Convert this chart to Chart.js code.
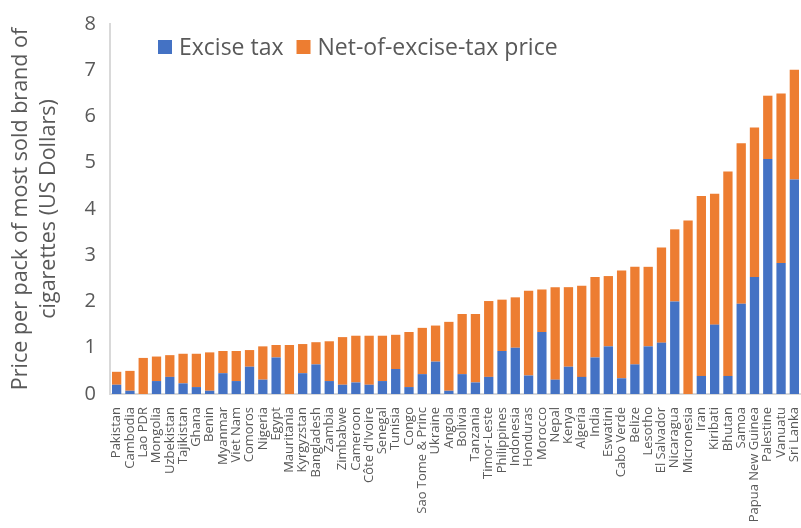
<!DOCTYPE html>
<html>
<head>
<meta charset="utf-8">
<script src="https://cdn.jsdelivr.net/npm/chart.js@4/dist/chart.umd.min.js"></script>
<style>
    html, body { margin: 0; padding: 0; background: #fff; overflow: hidden; }
    canvas { display: block; }
</style>
</head>
<body>
<canvas id="myChart" width="801" height="528"></canvas>
<script>
// Datos de la gráfica
const countries = ['Pakistan', 'Cambodia', 'Lao PDR', 'Mongolia', 'Uzbekistan', 'Tajikistan', 'Ghana', 'Benin',
    'Myanmar', 'Viet Nam', 'Comoros', 'Nigeria', 'Egypt', 'Mauritania', 'Kyrgyzstan', 'Bangladesh', 'Zambia',
    'Zimbabwe', 'Cameroon', "Côte d'Ivoire", 'Senegal', 'Tunisia', 'Congo', 'Sao Tome & Princ', 'Ukraine',
    'Angola', 'Bolivia', 'Tanzania', 'Timor-Leste', 'Philippines', 'Indonesia', 'Honduras', 'Morocco', 'Nepal',
    'Kenya', 'Algeria', 'India', 'Eswatini', 'Cabo Verde', 'Belize', 'Lesotho', 'El Salvador', 'Nicaragua',
    'Micronesia', 'Iran', 'Kiribati', 'Bhutan', 'Samoa', 'Papua New Guinea', 'Palestine', 'Vanuatu', 'Sri Lanka'];

const exciseTax = [0.20, 0.07, 0.00, 0.28, 0.37, 0.23, 0.15, 0.07, 0.45, 0.28, 0.59, 0.31, 0.79, 0.00, 0.45,
    0.64, 0.28, 0.20, 0.25, 0.20, 0.28, 0.54, 0.15, 0.43, 0.70, 0.07, 0.43, 0.25, 0.37, 0.93, 1.00, 0.40, 1.34,
    0.31, 0.59, 0.37, 0.79, 1.03, 0.34, 0.64, 1.03, 1.11, 2.00, 0.00, 0.39, 1.50, 0.39, 1.95, 2.53, 5.08, 2.83, 4.64];

const netPrice = [0.28, 0.43, 0.78, 0.53, 0.47, 0.64, 0.72, 0.83, 0.48, 0.65, 0.36, 0.72, 0.27, 1.06, 0.63,
    0.48, 0.86, 1.03, 1.01, 1.06, 0.98, 0.74, 1.19, 1.00, 0.78, 1.49, 1.30, 1.48, 1.64, 1.11, 1.09, 1.83, 0.92,
    2.00, 1.72, 1.97, 1.74, 1.52, 2.33, 2.11, 1.72, 2.06, 1.56, 3.75, 3.89, 2.83, 4.42, 3.47, 3.23, 1.37, 3.67, 2.37];

const yTicks = [0, 1, 2, 3, 4, 5, 6, 7, 8];

const gris = '#595959';

// Leyenda dentro del área de la gráfica
const leyenda = {
    id: 'leyenda',
    afterDraw(chart) {
        const ctx = chart.ctx;
        const area = chart.chartArea;
        let x = area.left + 48;
        const y = area.top + 23;
        ctx.save();
        ctx.font = '23px "Open Sans"';
        ctx.textBaseline = 'middle';
        chart.data.datasets.forEach(ds => {
            ctx.fillStyle = ds.backgroundColor;
            ctx.fillRect(x, y - 7, 14, 14);
            x += 21;
            ctx.fillStyle = gris;
            ctx.fillText(ds.label, x, y + 1);
            x += ctx.measureText(ds.label).width + 13;
        });
        ctx.restore();
    }
};

const ctx = document.getElementById('myChart');
new Chart(ctx, {
    type: 'bar',
    data: {
        labels: countries,
        datasets: [{
            label: 'Excise tax',
            data: exciseTax,
            backgroundColor: '#4472C4',
            categoryPercentage: 1,
            barPercentage: 0.7
        },
        {
            label: 'Net-of-excise-tax price',
            data: netPrice,
            backgroundColor: '#ED7D31',
            categoryPercentage: 1,
            barPercentage: 0.7
        }]
    },
    options: {
        responsive: false,
        animation: false,
        layout: { padding: { top: 24, left: 7, right: -2, bottom: 0 } },
        plugins: {
            legend: { display: false },
            tooltip: { enabled: false }
        },
        scales: {
            x: {
                stacked: true,
                grid: { display: false },
                border: { color: '#d9d9d9', width: 2 },
                ticks: {
                    autoSkip: false,
                    minRotation: 90,
                    maxRotation: 90,
                    color: gris,
                    padding: 5,
                    font: { family: 'Open Sans', size: 13 }
                },
                afterFit: function(scale) {
                    scale.height = 134;
                    scale.paddingRight = -2; // la última barra queda cortada como en el original
                }
            },
            y: {
                stacked: true,
                min: 0,
                max: 8,
                grid: { display: false },
                border: { color: '#d9d9d9', width: 2 },
                afterBuildTicks: function(scale) {
                    scale.ticks = yTicks.map(v => ({ value: v }));
                },
                ticks: {
                    color: gris,
                    padding: 6,
                    font: { family: 'Open Sans', size: 20 }
                },
                title: {
                    display: true,
                    text: ['Price per pack of most sold brand of', 'cigarettes (US Dollars)'],
                    color: gris,
                    padding: { top: 0, bottom: 4 },
                    font: { family: 'Open Sans', size: 21.5, lineHeight: 1.3 }
                },
                afterFit: function(scale) { scale.width = 103; }
            }
        }
    },
    plugins: [leyenda]
});
</script>
</body>
</html>
